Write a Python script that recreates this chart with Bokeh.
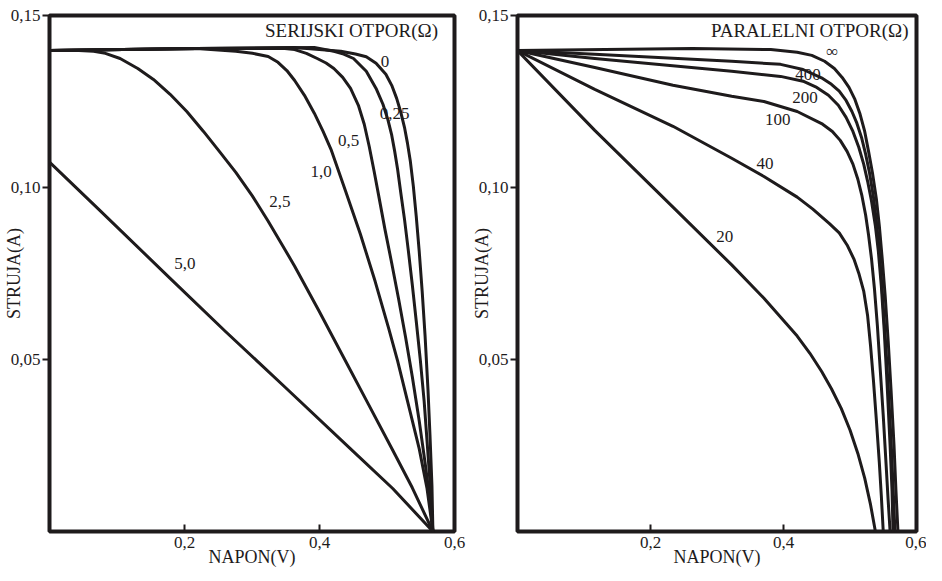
from bokeh.plotting import figure
from bokeh.models import Range1d, FixedTicker, ColumnDataSource
from bokeh.layouts import row
from bokeh.core.properties import value
from bokeh.embed import file_html
from bokeh.resources import INLINE

INK = "#1e1b1c"
FONT = "Liberation Serif"

# ---------------- axes ----------------
x_ticks = [0.2, 0.4, 0.6]
x_tick_labels = ["0,2", "0,4", "0,6"]
y_ticks = [0.05, 0.10, 0.15]
y_tick_labels = ["0,05", "0,10", "0,15"]
x_title = "NAPON(V)"
y_title = "STRUJA(A)"

# ---------------- left panel: series resistance ----------------
ser_title = "SERIJSKI OTPOR(Ω)"
ser_r0_v = [0.0, 0.2179, 0.3632, 0.4315, 0.4533, 0.4693, 0.4838, 0.4983, 0.5070, 0.5143, 0.5201, 0.5259, 0.5303, 0.5346, 0.5390, 0.5433, 0.5477, 0.5521, 0.5564, 0.5608, 0.5637, 0.5666, 0.5680]
ser_r0_i = [0.1398, 0.1404, 0.1407, 0.1396, 0.1388, 0.1380, 0.1361, 0.1329, 0.1297, 0.1259, 0.1221, 0.1175, 0.1129, 0.1076, 0.1004, 0.0917, 0.0815, 0.0699, 0.0569, 0.0409, 0.0279, 0.0133, 0.0]
ser_r025_v = [0.0, 0.2179, 0.3923, 0.4213, 0.4358, 0.4504, 0.4693, 0.4838, 0.4940, 0.5012, 0.5070, 0.5114, 0.5157, 0.5201, 0.5259, 0.5317, 0.5375, 0.5433, 0.5492, 0.5550, 0.5593, 0.5637, 0.5680]
ser_r025_i = [0.1398, 0.1404, 0.1407, 0.1396, 0.1388, 0.1375, 0.1338, 0.1288, 0.1242, 0.1198, 0.1152, 0.1105, 0.1053, 0.0989, 0.0908, 0.0815, 0.0717, 0.0612, 0.0502, 0.0380, 0.0264, 0.0142, 0.0]
ser_r05_v = [0.0, 0.2179, 0.3487, 0.3632, 0.3806, 0.3966, 0.4097, 0.4213, 0.4344, 0.4460, 0.4576, 0.4663, 0.4736, 0.4809, 0.4881, 0.4969, 0.5070, 0.5172, 0.5274, 0.5375, 0.5477, 0.5564, 0.5637, 0.5680]
ser_r05_i = [0.1398, 0.1404, 0.1404, 0.1401, 0.1390, 0.1375, 0.1362, 0.1346, 0.1320, 0.1288, 0.1239, 0.1184, 0.1120, 0.1047, 0.0972, 0.0879, 0.0780, 0.0676, 0.0566, 0.0450, 0.0322, 0.0200, 0.0090, 0.0]
ser_r1_v = [0.0, 0.2179, 0.2760, 0.3007, 0.3240, 0.3385, 0.3516, 0.3632, 0.3777, 0.3923, 0.4053, 0.4170, 0.4387, 0.4605, 0.4823, 0.5027, 0.5157, 0.5303, 0.5477, 0.5593, 0.5680]
ser_r1_i = [0.1398, 0.1404, 0.1396, 0.1390, 0.1381, 0.1364, 0.1340, 0.1311, 0.1268, 0.1216, 0.1163, 0.1111, 0.0989, 0.0865, 0.0728, 0.0589, 0.0496, 0.0380, 0.0241, 0.0125, 0.0]
ser_r25_v = [0.0, 0.0436, 0.0654, 0.0828, 0.1046, 0.1308, 0.1540, 0.1787, 0.2034, 0.2281, 0.2528, 0.2760, 0.3007, 0.3240, 0.3487, 0.3632, 0.3995, 0.4358, 0.4722, 0.5085, 0.5375, 0.5680]
ser_r25_i = [0.1398, 0.1398, 0.1396, 0.1390, 0.1375, 0.1346, 0.1314, 0.1271, 0.1221, 0.1163, 0.1102, 0.1044, 0.0975, 0.0902, 0.0820, 0.0771, 0.0640, 0.0506, 0.0371, 0.0236, 0.0127, 0.0]
ser_r5_v = [0.0, 0.0726, 0.1787, 0.2615, 0.3487, 0.4460, 0.5085, 0.5680]
ser_r5_i = [0.1074, 0.0937, 0.0736, 0.0580, 0.0420, 0.0240, 0.0125, 0.0]

ser_labels = ["0", "0,25", "0,5", "1,0", "2,5", "5,0"]
ser_label_v = [0.4969, 0.5114, 0.4431, 0.4024, 0.3414, 0.2005]
ser_label_i = [0.1367, 0.1216, 0.1137, 0.1047, 0.0960, 0.0778]
ser_title_v = 0.5755

# ---------------- right panel: parallel resistance ----------------
par_title = "PARALELNI OTPOR(Ω)"
par_inf_v = [0.0, 0.2632, 0.3809, 0.4206, 0.4426, 0.4618, 0.4765, 0.4882, 0.4985, 0.5074, 0.5147, 0.5221, 0.5279, 0.5338, 0.5397, 0.5441, 0.5485, 0.5529, 0.5574, 0.5618, 0.5662, 0.5691, 0.5721]
par_inf_i = [0.1398, 0.1404, 0.1401, 0.1393, 0.1384, 0.1367, 0.1346, 0.1320, 0.1291, 0.1256, 0.1216, 0.1163, 0.1105, 0.1042, 0.0966, 0.0888, 0.0792, 0.0685, 0.0554, 0.0409, 0.0250, 0.0119, 0.0]
par_400_v = [0.0, 0.1162, 0.3221, 0.3956, 0.4294, 0.4588, 0.4721, 0.4838, 0.4941, 0.5029, 0.5103, 0.5177, 0.5235, 0.5294, 0.5353, 0.5397, 0.5441, 0.5485, 0.5529, 0.5574, 0.5618, 0.5647, 0.5676]
par_400_i = [0.1398, 0.1387, 0.1367, 0.1358, 0.1343, 0.1317, 0.1300, 0.1280, 0.1253, 0.1221, 0.1187, 0.1143, 0.1097, 0.1042, 0.0972, 0.0902, 0.0815, 0.0699, 0.0569, 0.0424, 0.0264, 0.0133, 0.0]
par_200_v = [0.0, 0.1162, 0.3221, 0.3956, 0.4294, 0.4500, 0.4676, 0.4824, 0.4941, 0.5044, 0.5132, 0.5206, 0.5265, 0.5324, 0.5382, 0.5426, 0.5471, 0.5515, 0.5559, 0.5603, 0.5632, 0.5647]
par_200_i = [0.1398, 0.1375, 0.1338, 0.1323, 0.1309, 0.1291, 0.1268, 0.1239, 0.1204, 0.1163, 0.1117, 0.1068, 0.1018, 0.0960, 0.0888, 0.0815, 0.0714, 0.0583, 0.0424, 0.0250, 0.0119, 0.0]
par_100_v = [0.0, 0.1162, 0.2338, 0.3221, 0.3706, 0.4206, 0.4588, 0.4735, 0.4853, 0.4956, 0.5044, 0.5118, 0.5177, 0.5235, 0.5279, 0.5324, 0.5368, 0.5412, 0.5456, 0.5500, 0.5544, 0.5574, 0.5603]
par_100_i = [0.1398, 0.1349, 0.1297, 0.1265, 0.1250, 0.1221, 0.1184, 0.1163, 0.1137, 0.1105, 0.1068, 0.1024, 0.0978, 0.0920, 0.0862, 0.0792, 0.0705, 0.0598, 0.0467, 0.0337, 0.0191, 0.0090, 0.0]
par_40_v = [0.0, 0.1162, 0.2338, 0.3221, 0.3706, 0.4206, 0.4441, 0.4691, 0.4838, 0.4956, 0.5059, 0.5132, 0.5206, 0.5265, 0.5309, 0.5353, 0.5397, 0.5441, 0.5471, 0.5500]
par_40_i = [0.1398, 0.1285, 0.1178, 0.1085, 0.1032, 0.0972, 0.0937, 0.0895, 0.0868, 0.0833, 0.0792, 0.0751, 0.0699, 0.0627, 0.0540, 0.0438, 0.0322, 0.0200, 0.0104, 0.0]
par_20_v = [0.0, 0.1162, 0.2338, 0.3221, 0.3706, 0.4206, 0.4397, 0.4574, 0.4721, 0.4868, 0.5000, 0.5118, 0.5221, 0.5309, 0.5382]
par_20_i = [0.1398, 0.1166, 0.0943, 0.0775, 0.0678, 0.0568, 0.0518, 0.0465, 0.0415, 0.0358, 0.0295, 0.0227, 0.0155, 0.0078, 0.0]

par_labels = ["∞", "400", "200", "100", "40", "20"]
par_label_v = [0.4735, 0.4368, 0.4324, 0.3912, 0.3720, 0.3118]
par_label_i = [0.1396, 0.1329, 0.1262, 0.1198, 0.1071, 0.0859]
par_title_v = 0.5880

title_i = 0.1456


def make_panel(width, border_left, border_right):
    p = figure(width=width, height=573, x_range=Range1d(0, 0.6), y_range=Range1d(0, 0.15),
               output_backend="svg", toolbar_location=None,
               min_border_left=border_left, min_border_right=border_right,
               min_border_top=15, min_border_bottom=42)
    p.grid.visible = False
    p.background_fill_color = "white"
    p.border_fill_color = "white"
    p.outline_line_color = INK
    p.outline_line_width = 4

    xa = p.xaxis[0]
    xa.ticker = FixedTicker(ticks=x_ticks)
    xa.major_label_overrides = dict(zip(x_ticks, x_tick_labels))
    xa.axis_line_color = None
    xa.major_tick_in = 7
    xa.major_tick_out = 0
    xa.major_tick_line_width = 2
    xa.major_tick_line_color = INK
    xa.minor_tick_line_color = None
    xa.major_label_standoff = 5
    xa.major_label_text_font = FONT
    xa.major_label_text_font_size = "17px"
    xa.major_label_text_color = INK
    xa.axis_label = x_title
    xa.axis_label_text_font = FONT
    xa.axis_label_text_font_style = "normal"
    xa.axis_label_text_font_size = "18px"
    xa.axis_label_text_color = INK
    xa.axis_label_standoff = -4

    ya = p.yaxis[0]
    ya.ticker = FixedTicker(ticks=y_ticks)
    ya.major_label_overrides = dict(zip(y_ticks, y_tick_labels))
    ya.axis_line_color = None
    ya.major_tick_in = 0
    ya.major_tick_out = 7
    ya.major_tick_line_width = 2
    ya.major_tick_line_color = INK
    ya.minor_tick_line_color = None
    ya.major_label_standoff = 2
    ya.major_label_text_font = FONT
    ya.major_label_text_font_size = "17px"
    ya.major_label_text_color = INK
    ya.axis_label = y_title
    ya.axis_label_text_font = FONT
    ya.axis_label_text_font_style = "normal"
    ya.axis_label_text_font_size = "18px"
    ya.axis_label_text_color = INK
    ya.axis_label_standoff = -16
    return p


def draw_curves(p, curves, labels, lv, li, title, tv):
    for v, i in curves:
        p.line(v, i, line_color=INK, line_width=3, line_join="round", line_cap="round")
    src = ColumnDataSource(dict(x=lv, y=li, t=labels))
    p.text(x="x", y="y", text="t", source=src, text_font=value(FONT),
           text_font_size=value("17px"), text_color=INK,
           text_align="center", text_baseline="middle")
    p.text(x=[tv], y=[title_i], text=[title], text_font=value(FONT),
           text_font_size=value("19px"), text_color=INK,
           text_align="right", text_baseline="middle")


left = make_panel(468, 40, 14)
draw_curves(left,
            [(ser_r0_v, ser_r0_i), (ser_r025_v, ser_r025_i), (ser_r05_v, ser_r05_i),
             (ser_r1_v, ser_r1_i), (ser_r25_v, ser_r25_i), (ser_r5_v, ser_r5_i)],
            ser_labels, ser_label_v, ser_label_i, ser_title, ser_title_v)

right = make_panel(458, 40, 10)
draw_curves(right,
            [(par_inf_v, par_inf_i), (par_400_v, par_400_i), (par_200_v, par_200_i),
             (par_100_v, par_100_i), (par_40_v, par_40_i), (par_20_v, par_20_i)],
            par_labels, par_label_v, par_label_i, par_title, par_title_v)

layout = row(left, right)
open("out.html", "w").write(file_html(layout, INLINE))
